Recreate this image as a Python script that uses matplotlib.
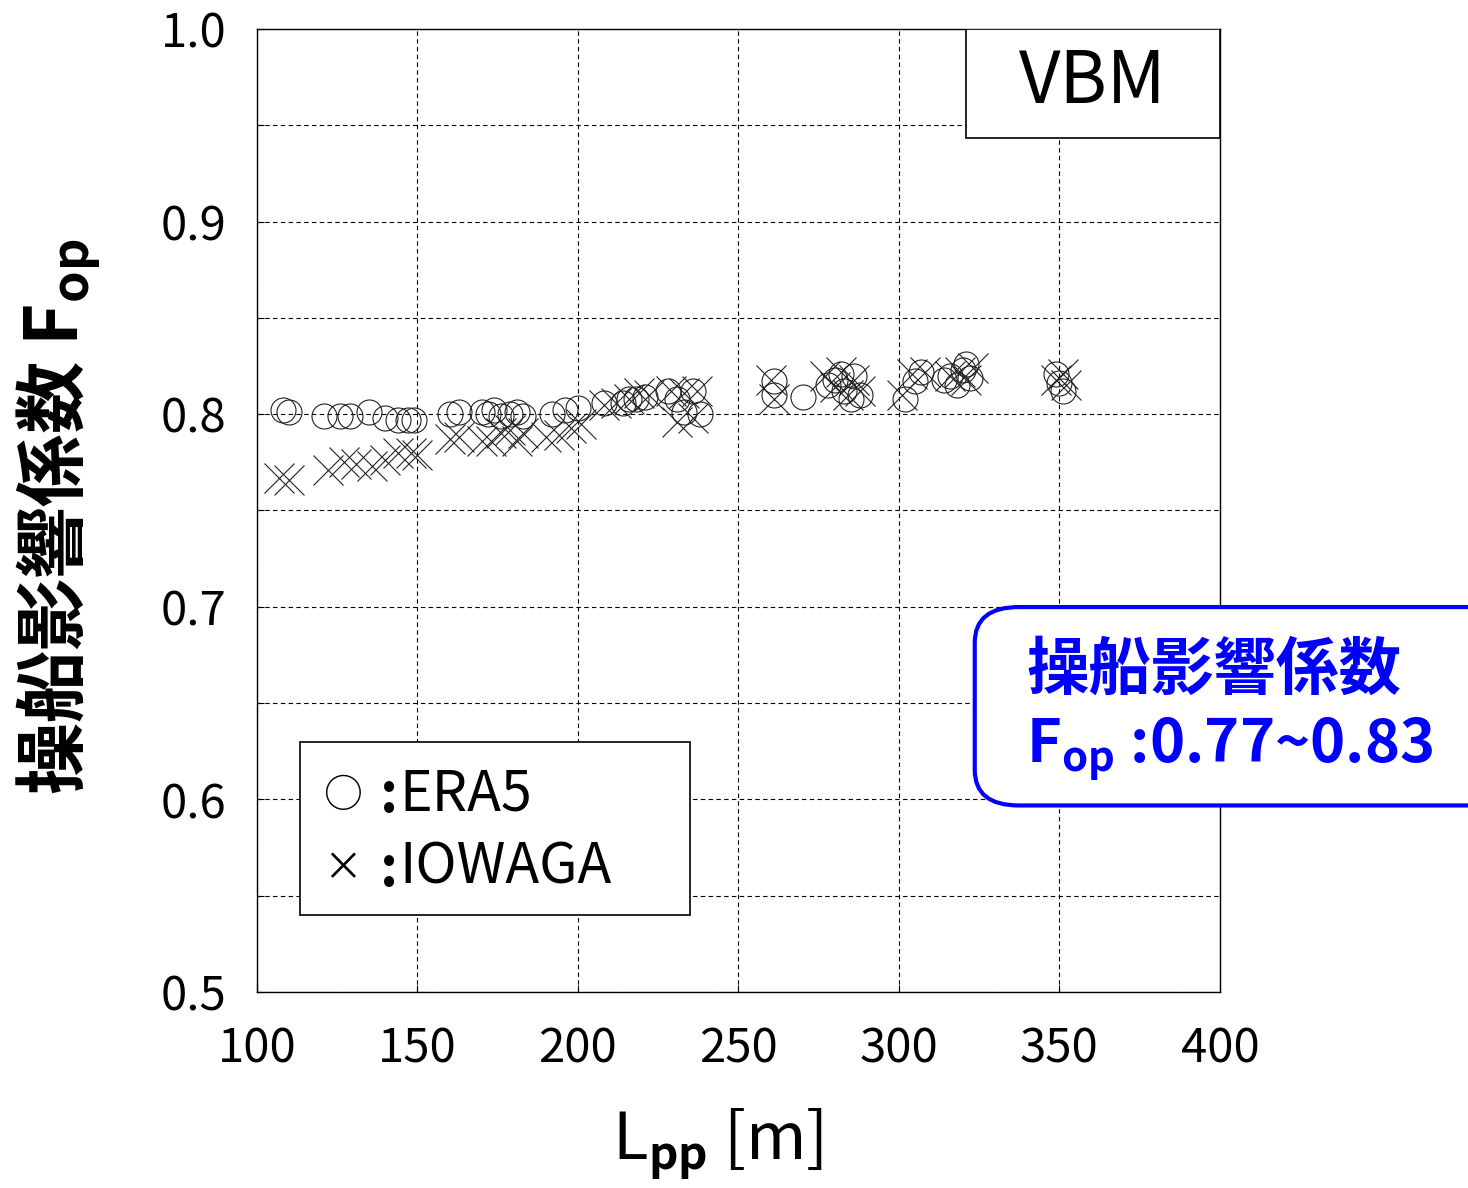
import numpy as np
import matplotlib
matplotlib.use('Agg')
import matplotlib.pyplot as plt
from matplotlib.patches import Rectangle, FancyBboxPatch

plt.rcParams['font.family'] = ['Noto Sans CJK JP', 'DejaVu Sans']
plt.rcParams['mathtext.fontset'] = 'custom'
plt.rcParams['mathtext.rm'] = 'Noto Sans CJK JP'
plt.rcParams['mathtext.bf'] = 'Noto Sans CJK JP:bold'

# ERA5 (circles)
era5_x = [108, 110, 121, 126, 129, 135, 140, 144, 147, 149,
          160, 163, 170, 172, 174, 176, 179, 181, 183, 192,
          196, 200, 208, 214, 216, 218, 221, 228, 231, 233,
          236, 238, 261, 261, 270, 278, 280, 282, 283, 285,
          286, 288, 302, 305, 307, 314, 316, 318, 320, 321,
          322, 349, 350, 351]
era5_y = [0.802, 0.801, 0.799, 0.799, 0.799, 0.801, 0.798, 0.797, 0.797, 0.797,
          0.800, 0.801, 0.801, 0.800, 0.802, 0.799, 0.800, 0.801, 0.799, 0.800,
          0.802, 0.803, 0.806, 0.806, 0.808, 0.808, 0.809, 0.812, 0.808, 0.801,
          0.812, 0.800, 0.817, 0.810, 0.809, 0.815, 0.818, 0.821, 0.812, 0.808,
          0.820, 0.810, 0.808, 0.817, 0.822, 0.818, 0.820, 0.815, 0.823, 0.826,
          0.819, 0.821, 0.816, 0.812]

# IOWAGA (crosses)
iowaga_x = [107, 110, 122, 127, 131, 136, 140, 144, 148, 150,
            160, 163, 170, 173, 176, 179, 181, 183, 190, 194,
            198, 201, 208, 212, 216, 219, 222, 229, 231, 233,
            236, 237, 260, 261, 277, 280, 282, 284, 286, 288,
            301, 304, 308, 316, 319, 321, 323, 349, 351, 352]
iowaga_y = [0.767, 0.766, 0.771, 0.775, 0.774, 0.773, 0.776, 0.780, 0.780, 0.779,
            0.787, 0.788, 0.786, 0.786, 0.790, 0.792, 0.786, 0.790, 0.788, 0.789,
            0.793, 0.795, 0.805, 0.806, 0.808, 0.811, 0.810, 0.812, 0.796, 0.811,
            0.798, 0.812, 0.818, 0.808, 0.820, 0.814, 0.822, 0.810, 0.818, 0.812,
            0.810, 0.821, 0.822, 0.820, 0.822, 0.818, 0.824, 0.818, 0.821, 0.815]

x_ticks = [100, 150, 200, 250, 300, 350, 400]
y_ticks = [0.5, 0.6, 0.7, 0.8, 0.9, 1.0]

fig = plt.figure(figsize=(14.68, 11.88), dpi=100)
ax = fig.add_axes([0.175, 0.165, 0.656, 0.8106])

ax.plot(era5_x, era5_y, linestyle='none', marker='o', markersize=18,
        markerfacecolor='none', markeredgecolor='#222222', markeredgewidth=0.8)
ax.plot(iowaga_x, iowaga_y, linestyle='none', marker='x', markersize=21,
        color='#222222', markeredgewidth=0.8)

ax.set_xlim(100, 400)
ax.set_ylim(0.5, 1.0)
ax.set_xticks(x_ticks)
ax.set_yticks(y_ticks)
ax.set_yticklabels(['%.1f' % v for v in y_ticks])
ax.set_yticks(np.arange(0.55, 1.0, 0.1), minor=True)
ax.grid(True, which='both', color='black', linestyle=(0, (4, 3)), linewidth=0.8)
ax.tick_params(axis='both', which='both', direction='in', length=5, width=0.8,
               labelsize=34)
ax.tick_params(axis='y', pad=22)
ax.tick_params(axis='x', pad=24)
for s in ax.spines.values():
    s.set_linewidth(1.0)

fig.text(0.489, 0.037, r'L$_{\mathbf{pp}}$ [m]', fontsize=47, ha='center', va='center')
fig.text(0.040, 0.565, r'操船影響係数 F$_{\mathbf{op}}$', rotation=90,
         fontsize=52, fontweight='bold', ha='center', va='center')

# VBM box
ax.add_patch(Rectangle((0.736, 0.887), 0.264, 0.113, transform=ax.transAxes,
                       facecolor='white', edgecolor='black', linewidth=1.2, zorder=5))
ax.text(0.868, 0.944, 'VBM', transform=ax.transAxes, fontsize=52,
        ha='center', va='center', zorder=6)

# legend box
ax.add_patch(Rectangle((0.045, 0.08), 0.405, 0.18, transform=ax.transAxes,
                       facecolor='white', edgecolor='black', linewidth=1.2, zorder=5))
ax.text(0.089, 0.203, '○', transform=ax.transAxes, fontsize=28,
        ha='center', va='center', zorder=6)
ax.text(0.089, 0.128, '×', transform=ax.transAxes, fontsize=28,
        ha='center', va='center', zorder=6)
for yy in (0.203, 0.127):
    ax.text(0.137, yy, ':', transform=ax.transAxes, fontsize=40, fontweight='bold',
            ha='center', va='center', zorder=6)
ax.text(0.148, 0.205, 'ERA5', transform=ax.transAxes, fontsize=40,
        ha='left', va='center', zorder=6)
ax.text(0.148, 0.129, 'IOWAGA', transform=ax.transAxes, fontsize=40,
        ha='left', va='center', zorder=6)

# blue annotation box
fig.patches.append(FancyBboxPatch((0.664, 0.322), 0.4, 0.167,
                                  boxstyle='round,pad=0,rounding_size=0.03',
                                  transform=fig.transFigure, facecolor='white',
                                  edgecolor='#0000ff', linewidth=3, zorder=10))
fig.text(0.699, 0.436, '操船影響係数', color='#0000ff', fontsize=45,
         fontweight='bold', ha='left', va='center', zorder=11)
fig.text(0.699, 0.370, r'F$_{\mathbf{op}}$ :0.77~0.83', color='#0000ff', fontsize=43,
         fontweight='bold', ha='left', va='center', zorder=11)

fig.savefig('out.png', dpi=100)
